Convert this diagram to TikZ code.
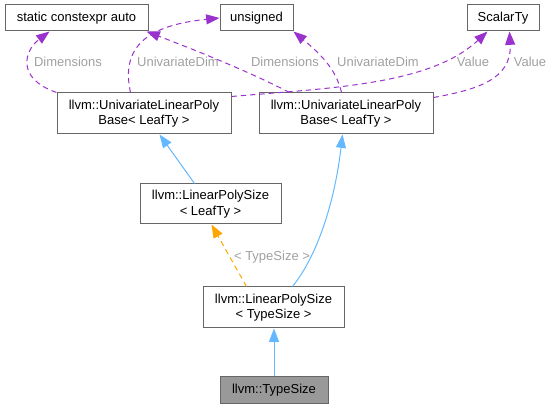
\documentclass[tikz,border=0pt]{standalone}
\usepackage{fontspec}
\setmainfont{Liberation Sans}
\usetikzlibrary{arrows.meta,calc}
\definecolor{bordc}{HTML}{666666}
\definecolor{bluec}{HTML}{63B8FF}
\definecolor{orc}{HTML}{FFA500}
\definecolor{purc}{HTML}{9A32CD}
\definecolor{lblc}{HTML}{A0A0A0}
\definecolor{tsfill}{HTML}{999999}
\begin{document}
\begin{tikzpicture}[x=0.75pt,y=-0.75pt,
  box/.style={draw=bordc,line width=0.75pt,inner sep=0pt,align=center,
    font=\fontsize{9.75}{11.5}\selectfont,text=black},
  tip/.style={-{Triangle[length=10pt,width=7.5pt]}},
  inh/.style={draw=bluec,line width=0.75pt,tip},
  tmpl/.style={draw=orc,line width=0.75pt,dash pattern=on 4pt off 3pt,tip},
  use/.style={draw=purc,line width=0.75pt,dash pattern=on 4pt off 3pt,tip},
  lbl/.style={text=lblc,inner sep=0pt,font=\fontsize{9.75}{11.5}\selectfont}]
\useasboundingbox (0,0) rectangle (553,409);

\node[box,minimum width=107.25pt,minimum height=19.5pt] (sca) at (76.5,18) {static constexpr auto};
\node[box,minimum width=54.75pt,minimum height=19.5pt] (uns) at (256.5,18) {unsigned};
\node[box,minimum width=54pt,minimum height=19.5pt] (sty) at (503,18) {ScalarTy};
\node[box,minimum width=130.5pt,minimum height=30.75pt] (lb) at (144,113.5) {llvm::UnivariateLinearPoly\\Base< LeafTy >};
\node[box,minimum width=130.5pt,minimum height=30.75pt] (rb) at (346,113.5) {llvm::UnivariateLinearPoly\\Base< LeafTy >};
\node[box,minimum width=105.75pt,minimum height=30pt] (lpl) at (210.5,204) {llvm::LinearPolySize\\< LeafTy >};
\node[box,minimum width=105.75pt,minimum height=30.75pt] (lpt) at (273.5,307.5) {llvm::LinearPolySize\\< TypeSize >};
\node[box,fill=tsfill,minimum width=81pt,minimum height=19.5pt] (ts) at (274,390) {llvm::TypeSize};

% inheritance
\draw[inh] (ts.north) -- (ts.north |- lpt.south);
\draw[inh] ($(lpl.north west)+(55,0)$) -- ($(lb.south west)+(103,0)$);
\draw[inh] ($(lpt.north west)+(90,0)$) .. controls (318,255) and (335,200) .. ($(rb.south west)+(84,0)$);
\draw[tmpl] ($(lpt.north west)+(44,0)$) -- ($(lpl.south west)+(72,0)$);

% usage
\draw[use] (lb.north west) .. controls (15,78) and (25,50) .. ($(sca.south west)+(45,0)$);
\draw[use] ($(lb.north west)+(74,0)$) .. controls (120,45) and (150,25) .. (uns.west);
\draw[use] ($(rb.north west)+(31,0)$) .. controls (250,72) and (195,50) .. ($(sca.south east)+(-2,0)$);
\draw[use] ($(rb.north west)+(83,0)$) .. controls (336,68) and (318,52) .. (uns.south east);
\draw[use] ($(lb.north east)+(0,4)$) .. controls (330,88) and (430,85) .. ($(sty.south west)+(21,0)$);
\draw[use] ($(rb.north east)+(0,5)$) .. controls (475,90) and (512,80) .. ($(sty.south west)+(43,0)$);

% labels
\node[lbl] (l1) at (68,62) {Dimensions};
\node[lbl] (l2) at (178,62) {UnivariateDim};
\node[lbl] (l3) at (285,62) {Dimensions};
\node[lbl] (l4) at (378,62) {UnivariateDim};
\node[lbl] (l5) at (473,62) {Value};
\node[lbl] (l6) at (530,62) {Value};
\node[lbl] (l7) at (272,257) {< TypeSize >};
\end{tikzpicture}
\end{document}
